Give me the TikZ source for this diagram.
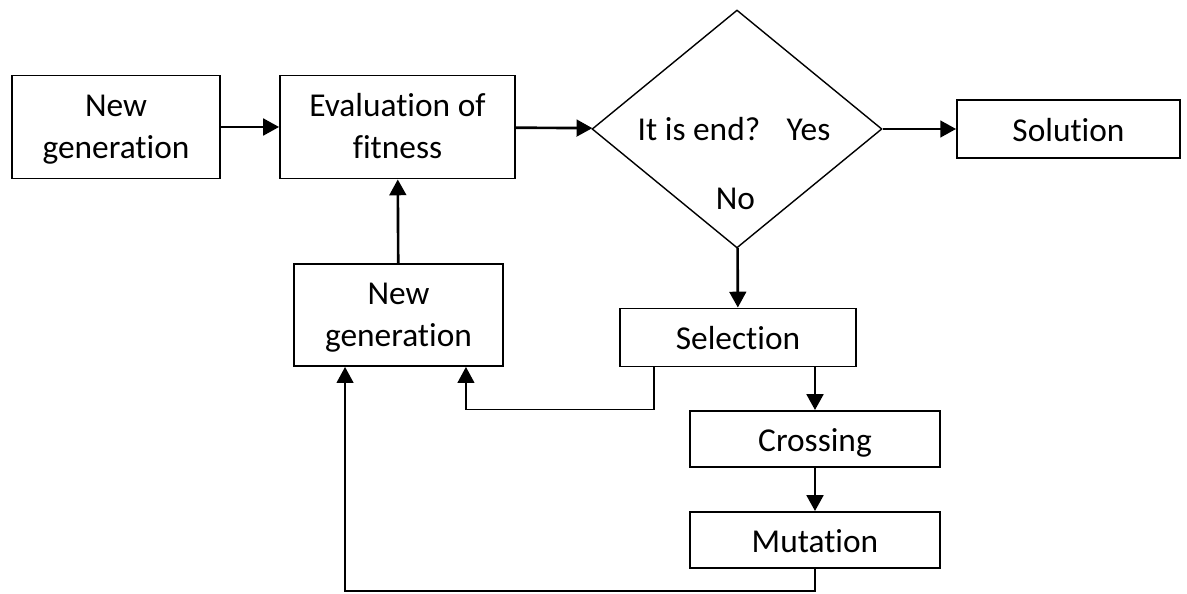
\documentclass[tikz,border=0pt]{standalone}
\usepackage{fontspec}
\setmainfont{Carlito}[Ligatures=NoCommon]
\usetikzlibrary{shapes.geometric,arrows.meta}

\newcommand{\zweizeilig}[2]{\raisebox{-1.2pt}[\height][\depth]{\begin{tabular}{@{}c@{}}#1\\#2\end{tabular}}}

\begin{document}
\begin{tikzpicture}[x=0.02cm, y=-0.02cm,
	box/.style={draw, line width=1.1pt, inner sep=0pt, font=\fontsize{19}{23.5}\selectfont},
	einzeilig/.style={text height=14pt, text depth=0pt},
	txt/.style={inner sep=0pt, anchor=base, font=\fontsize{19}{23.5}\selectfont},
	pfeil/.style={-{Triangle[length=9pt,width=9.5pt]}, line width=1.5pt},
	rueck/.style={-{Triangle[length=9pt,width=9.5pt]}, line width=0.9pt}]
	\useasboundingbox (0,0) rectangle (1187,594); % Rand um Grafik
	
	% obere Reihe
	\node[box, minimum width=4.16cm, minimum height=2.06cm] (gen1) at (116,127) {\zweizeilig{New}{generation}};
	\node[box, minimum width=4.7cm, minimum height=2.06cm] (eval) at (397.5,127) {\zweizeilig{Evaluation of}{fitness}};
	\node[draw, diamond, line width=0.8pt, inner sep=0pt, minimum width=5.8cm, minimum height=4.76cm] (ende) at (737,129) {};
	\node[txt] (frage) at (699,141) {It is end?};
	\node[txt] (ja) at (808.5,141) {Yes};
	\node[txt] (nein) at (735.5,210) {No};
	\node[box, einzeilig, minimum width=4.46cm, minimum height=1.16cm] (loes) at (1068.5,129) {Solution};
	
	% untere Boxen
	\node[box, minimum width=4.18cm, minimum height=2.04cm] (gen2) at (398.5,315) {\zweizeilig{New}{generation}};
	\node[box, einzeilig, minimum width=4.72cm, minimum height=1.16cm] (sel) at (738,337.5) {Selection};
	\node[box, einzeilig, minimum width=5cm, minimum height=1.12cm] (kreuz) at (815,439) {Crossing};
	\node[box, einzeilig, minimum width=5cm, minimum height=1.12cm] (mut) at (815,540) {Mutation};
	
	% Pfeile
	\draw[pfeil] (gen1) -- (eval);
	\draw[pfeil] (eval) -- (ende);
	\draw[pfeil] (ende) -- (loes.west |- ende);
	\draw[pfeil] (gen2) -- (eval);
	\draw[pfeil] (ende) -- (sel);
	\draw[pfeil] (sel.south -| kreuz.north) -- (kreuz);
	\draw[pfeil] (kreuz) -- (mut);
	
	% Rueckfuehrung
	\draw[rueck] ([xshift=0.7cm]sel.south west) -- ++(0,42) -| ([xshift=-0.76cm]gen2.south east);
	\draw[rueck] (mut.south) -- ++(0,22) -| ([xshift=1.04cm]gen2.south west);
\end{tikzpicture}
\end{document}
